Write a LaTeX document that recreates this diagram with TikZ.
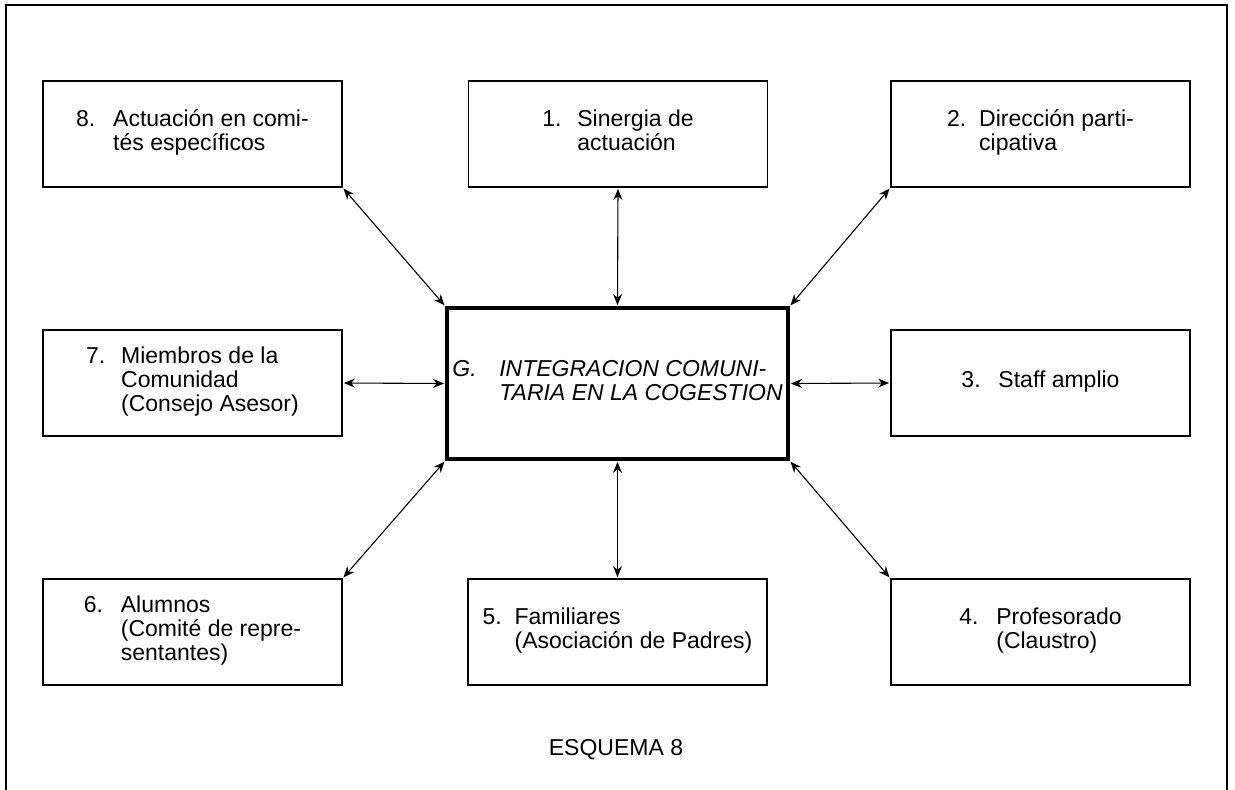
\documentclass[tikz,border=0pt]{standalone}
\usepackage{fontspec}
\setmainfont{Liberation Sans}
\usetikzlibrary{arrows.meta}
\tikzset{
  bx/.style={draw, line width=1.7pt, minimum width=299pt, minimum height=106pt, inner sep=0pt, font=\fontsize{23}{24}\selectfont},
  cbox/.style={draw, line width=3.8pt, minimum width=341pt, minimum height=151pt, inner sep=0pt, font=\fontsize{23}{24}\selectfont\itshape},
  link/.style={<->, >={Stealth[length=11pt,width=9pt]}, line width=1.1pt, shorten <=1pt, shorten >=1pt},
  frame/.style={line width=2.8pt},
  title/.style={font=\fontsize{23}{24}\selectfont}
}
\newcommand{\numcol}[2]{\makebox[#1pt][l]{#2}}
\begin{document}
\begin{tikzpicture}[x=1pt,y=-1pt]
\useasboundingbox (0,0) rectangle (1235,790);
\draw[frame] (6,800) -- (6,5) -- (1227,5) -- (1227,800);

\node[cbox] (c) at (617.5,383.5) {\begin{tabular}{@{}l@{}l@{}}\numcol{47}{G.} & INTEGRACION COMUNI-\\ & TARIA EN LA COGESTION\end{tabular}};

\node[bx] (b8) at (192.5,134) {\begin{tabular}{@{}l@{}l@{}}\numcol{37}{8.} & Actuación en comi-\\ & tés específicos\end{tabular}};
\node[bx] (b1) at (618,134) {\begin{tabular}{@{}l@{}l@{}}\numcol{35}{1.} & Sinergia de\\ & actuación\end{tabular}};
\node[bx] (b2) at (1040.5,134) {\begin{tabular}{@{}l@{}l@{}}\numcol{32}{2.} & Dirección parti-\\ & cipativa\end{tabular}};
\node[bx] (b7) at (192.5,383) {\begin{tabular}{@{}l@{}l@{}}\numcol{35}{7.} & Miembros de la\\ & Comunidad\\ & (Consejo Asesor)\end{tabular}};
\node[bx] (b3) at (1040.5,383) {\begin{tabular}{@{}l@{}l@{}}\numcol{37}{3.} & Staff amplio\end{tabular}};
\node[bx] (b6) at (192.5,632) {\begin{tabular}{@{}l@{}l@{}}\numcol{37}{6.} & Alumnos\\ & (Comité de repre-\\ & sentantes)\end{tabular}};
\node[bx] (b5) at (617.5,632) {\begin{tabular}{@{}l@{}l@{}}\numcol{32}{5.} & Familiares\\ & (Asociación de Padres)\end{tabular}};
\node[bx] (b4) at (1040.5,632) {\begin{tabular}{@{}l@{}l@{}}\numcol{37}{4.} & Profesorado\\ & (Claustro)\end{tabular}};

\draw[link] (b8.south east) -- (c.north west);
\draw[link] (b1.south) -- (c.north);
\draw[link] (b2.south west) -- (c.north east);
\draw[link] (b7.east) -- (c.west);
\draw[link] (b3.west) -- (c.east);
\draw[link] (c.south west) -- (b6.north east);
\draw[link] (c.south) -- (b5.north);
\draw[link] (c.south east) -- (b4.north west);

\node[title] (t) at (616,750) {ESQUEMA 8};
\end{tikzpicture}
\end{document}
